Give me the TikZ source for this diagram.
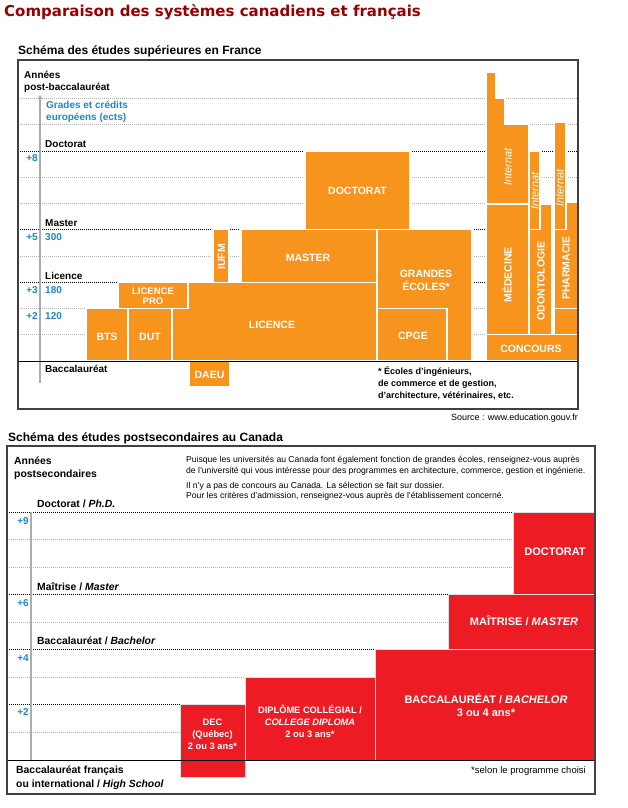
\documentclass[tikz,border=0pt]{standalone}
\usepackage{fontspec}
\setmainfont{Liberation Sans}
\newfontfamily\titlefont{DejaVu Sans}
\usetikzlibrary{arrows.meta}
\definecolor{fro}{HTML}{F7941D}
\definecolor{cared}{HTML}{ED1C24}
\definecolor{numblue}{HTML}{1E88C8}
\definecolor{titlered}{HTML}{990000}
\begin{document}
\begin{tikzpicture}[x=1pt,y=-1pt,
  obox/.style={fill=fro,draw=white,line width=1.3pt},
  rbox/.style={fill=cared,draw=white!75!gray,line width=1pt},
  wlab/.style={text=white,font=\bfseries\fontsize{10.5}{12.6}\selectfont,align=center,inner sep=0},
  wsm/.style={text=white,font=\bfseries\fontsize{9.5}{10.5}\selectfont,align=center,inner sep=0},
  rlab/.style={text=white,font=\bfseries\fontsize{11}{13}\selectfont,align=center,inner sep=0},
  rsm/.style={text=white,font=\bfseries\fontsize{9.3}{12}\selectfont,align=center,inner sep=0},
  ilab/.style={text=white,font=\itshape\fontsize{11}{13}\selectfont,inner sep=0},
  gdot/.style={draw=gray!60,line width=0.8pt,dash pattern=on 1pt off 1pt},
  bdot/.style={draw=black,line width=0.9pt,dash pattern=on 1pt off 1pt},
  lab/.style={font=\bfseries\fontsize{10}{12}\selectfont,anchor=base west,inner sep=0},
  clab/.style={lab,font=\bfseries\fontsize{10.4}{12}\selectfont},
  blab/.style={lab,text=numblue},
  num/.style={text=numblue,font=\bfseries\fontsize{10}{12}\selectfont,anchor=base east,inner sep=0},
  small/.style={font=\fontsize{8.6}{10}\selectfont,anchor=base west,inner sep=0},
  axis/.style={draw=gray!65,line width=1.8pt},
  frame/.style={draw=gray!50!black,line width=1.2pt}
]
\fill[white] (0,0) rectangle (627,808);
\useasboundingbox (0,0) rectangle (627,808);

% ---------- Titles
\node[anchor=base west,inner sep=0,text=titlered,font=\titlefont\bfseries\fontsize{15}{18}\selectfont] (title) at (4,17) {Comparaison des systèmes canadiens et français};
\node[anchor=base west,inner sep=0,font=\bfseries\fontsize{12}{14}\selectfont] (frtitle) at (18,55) {Schéma des études supérieures en France};

% ---------- France grid
\foreach \yy in {98.5,124.75,177.25,203.5,256,308.5,334.75}
  \draw[gdot] (18,\yy) -- (578,\yy);
\foreach \yy in {151,229.75,282.25}
  \draw[bdot] (18,\yy) -- (578,\yy);
\coordinate (fa0) at (40,383);
\coordinate (fa1) at (40,95);
\draw[axis,-{Triangle[length=4pt,width=5pt]}] (fa0) -- (fa1);

% ---------- France boxes
\draw[obox] (305,151) rectangle (410,229.75);
\node[wlab] (fdoc) at (357.5,190.5) {DOCTORAT};
\draw[obox] (172,282.25) rectangle (377,361);
\node[wlab] (flic) at (272,324.5) {LICENCE};
\draw[obox] (118,282.25) rectangle (188,308.5);
\node[wsm] (flpro) at (153,296) {LICENCE\\PRO};
\draw[obox] (213,229.75) rectangle (229,282.25);
\node[wlab,rotate=90] (fiufm) at (221.5,257) {IUFM};
\draw[obox] (241,229.75) rectangle (377,282.25);
\node[wlab] (fmas) at (308,258) {MASTER};
\draw[obox] (377,229.75) rectangle (472,361);
\node[wlab] (fge) at (426,280.5) {GRANDES\\ÉCOLES*};
\draw[obox] (377,308.5) rectangle (447,361);
\node[wlab] (fcpge) at (413,336) {CPGE};
\draw[obox] (86,308.5) rectangle (128,361);
\node[wlab] (fbts) at (107,337) {BTS};
\draw[obox] (128,308.5) rectangle (172,361);
\node[wlab] (fdut) at (150,337) {DUT};
\draw[obox] (189,361) rectangle (230,387);
\node[wlab] (fdaeu) at (209.5,374.5) {DAEU};

% Medical columns
\draw[obox] (486,72) -- (496,72) -- (496,98.5) -- (505,98.5) -- (505,124.75) -- (529,124.75) -- (529,204) -- (486,204) -- cycle;
\node[ilab,rotate=90] (fint1) at (508,167) {Internat};
\draw[obox] (486,204) rectangle (529,334.75);
\node[wlab,rotate=90] (fmed) at (507,275) {MÉDECINE};
\draw[obox] (529,204) rectangle (552,334.75);
\node[wlab,rotate=90] (fodo) at (541,281) {ODONTOLOGIE};
\draw[obox] (529,151) rectangle (540,229.75);
\node[ilab,rotate=90] (fint2) at (535,191) {Internat};
\draw[obox] (554,202) rectangle (578,308.5);
\node[wlab,rotate=90] (fpha) at (566,268) {PHARMACIE};
\draw[obox] (554,308.5) rectangle (578,334.75);
\draw[obox] (554,122) rectangle (566,229.75);
\node[ilab,rotate=90] (fint3) at (560,188) {Internat};
\draw[obox] (486,334.75) rectangle (578,361);
\node[wlab] (fconc) at (531,349) {CONCOURS};

\coordinate (fb0) at (18,361);
\coordinate (fb1) at (578,361);
\draw[black,line width=1pt] (fb0) -- (fb1);

% France labels
\node[lab] (fan1) at (24,78) {Années};
\node[lab] (fan2) at (24,90) {post-baccalauréat};
\node[blab] (fgr1) at (46,108) {Grades et crédits};
\node[blab] (fgr2) at (46,120) {européens (ects)};
\node[lab] (fldoc) at (45,147) {Doctorat};
\node[lab] (flmas) at (45,226) {Master};
\node[lab] (fllic) at (45,279) {Licence};
\node[lab] (flbac) at (45,372) {Baccalauréat};
\node[num] (fn8) at (38,161) {+8};
\node[num] (fn5) at (38,240) {+5};
\node[num] (fn3) at (38,293) {+3};
\node[num] (fn2) at (38,319) {+2};
\node[blab] (fe300) at (45,240) {300};
\node[blab] (fe180) at (45,293) {180};
\node[blab] (fe120) at (45,319) {120};

\node[lab,font=\bfseries\fontsize{9}{11}\selectfont] (fnote1) at (378,374) {* Écoles d’ingénieurs,};
\node[lab,font=\bfseries\fontsize{9}{11}\selectfont] (fnote2) at (378,386) {de commerce et de gestion,};
\node[lab,font=\bfseries\fontsize{9}{11}\selectfont] (fnote3) at (378,398) {d’architecture, vétérinaires, etc.};
\node[anchor=base east,inner sep=0,font=\fontsize{9}{11}\selectfont] (fsrc) at (578,420) {Source : www.education.gouv.fr};

\draw[frame] (18,60) rectangle (578,409);

% ---------- Canada
\node[anchor=base west,inner sep=0,font=\bfseries\fontsize{12}{14}\selectfont] (catitle) at (8,441) {Schéma des études postsecondaires au Canada};

\foreach \yy in {539.6,567.15,622.25,677.35,732.45}
  \draw[gdot] (7,\yy) -- (595,\yy);
\foreach \yy in {512.05,594.7,649.8,704.9}
  \draw[bdot] (7,\yy) -- (595,\yy);
\coordinate (ca0) at (31,512);
\coordinate (ca1) at (31,760);
\draw[axis] (ca0) -- (ca1);

\draw[rbox] (513,512.05) rectangle (595,594.7);
\node[rlab] (cdoc) at (555,552) {DOCTORAT};
\draw[rbox] (448,594.7) rectangle (595,649.8);
\node[rlab] (cmai) at (524,621) {MAÎTRISE / \textit{MASTER}};
\draw[rbox] (375,649.8) rectangle (595,760);
\node[rlab] (cbac) at (486,705) {BACCALAURÉAT / \textit{BACHELOR}\\3 ou 4 ans*};
\draw[rbox] (245,677.35) rectangle (375,760);
\node[rsm] (cdip) at (310,721) {DIPLÔME COLLÉGIAL /\\\textit{COLLEGE DIPLOMA}\\2 ou 3 ans*};
\draw[rbox] (180,704.9) rectangle (245,777);
\node[rsm] (cdec) at (212.5,734.5) {DEC\\(Québec)\\2 ou 3 ans*};

\coordinate (cb0) at (7,760);
\coordinate (cb1) at (595,760);
\draw[black,line width=1pt] (cb0) -- (cb1);

\node[clab] (can1) at (14,464) {Années};
\node[clab] (can2) at (14,477) {postsecondaires};
\node[clab] (cldoc) at (37,507) {Doctorat / \textit{Ph.D.}};
\node[clab] (clmai) at (37,590) {Maîtrise / \textit{Master}};
\node[clab] (clbac) at (37,644) {Baccalauréat / \textit{Bachelor}};
\node[clab] (clhs1) at (16,773) {Baccalauréat français};
\node[clab] (clhs2) at (16,787) {ou international / \textit{High School}};
\node[num] (cn9) at (29,524) {+9};
\node[num] (cn6) at (29,606) {+6};
\node[num] (cn4) at (29,661) {+4};
\node[num] (cn2) at (29,715) {+2};

\node[small] (ct1) at (186,462.5) {Puisque les universités au Canada font également fonction de grandes écoles, renseignez-vous auprès};
\node[small] (ct2) at (186,473) {de l’université qui vous intéresse pour des programmes en architecture, commerce, gestion et ingénierie.};
\node[small] (ct3) at (186,488) {Il n’y a pas de concours au Canada. La sélection se fait sur dossier.};
\node[small] (ct4) at (186,498) {Pour les critères d’admission, renseignez-vous auprès de l’établissement concerné.};
\node[anchor=base east,inner sep=0,font=\fontsize{9.5}{11}\selectfont] (csel) at (586,773) {*selon le programme choisi};

\draw[frame] (7,446) rectangle (595,794);
\end{tikzpicture}
\end{document}
